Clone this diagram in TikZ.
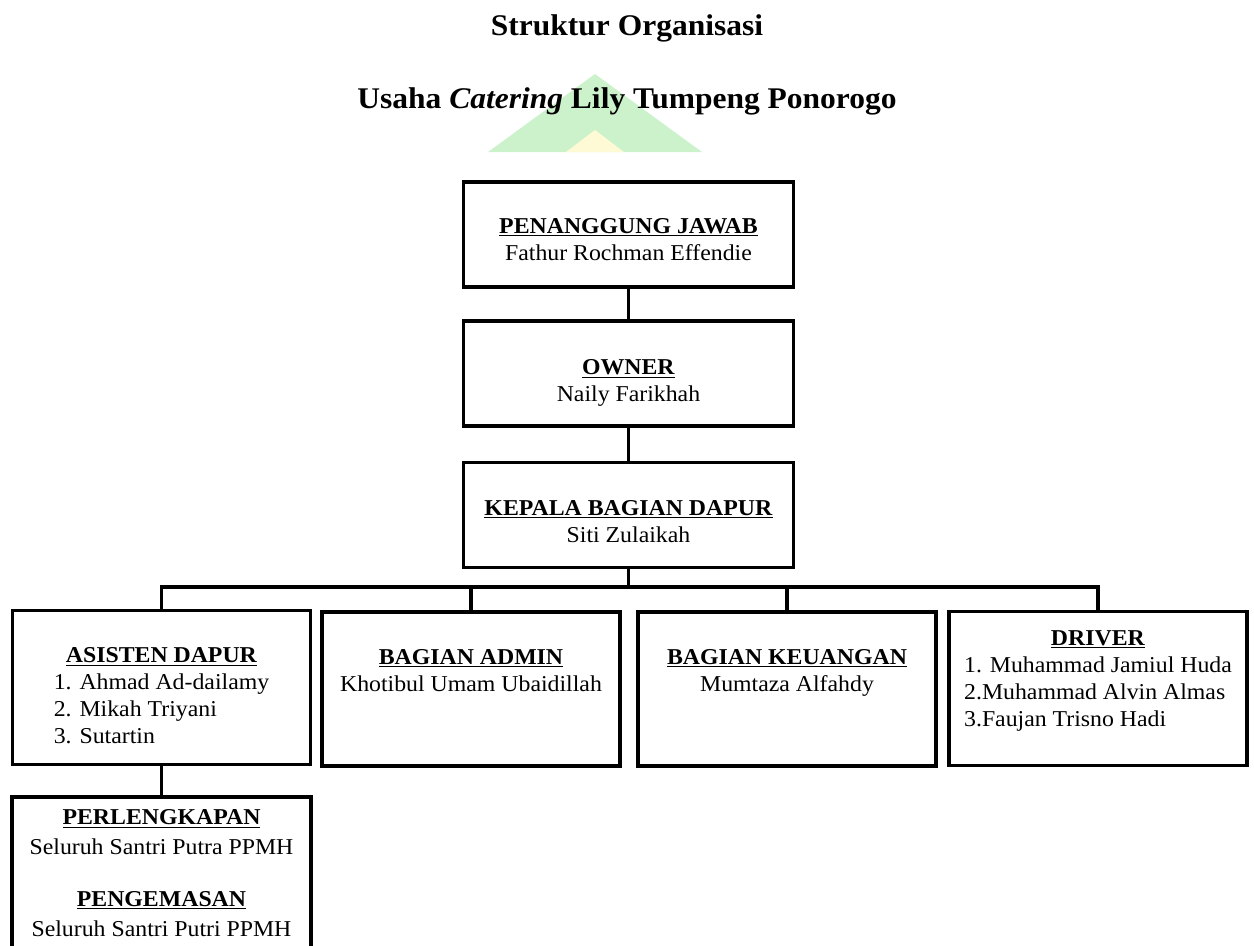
\documentclass[tikz,border=0pt]{standalone}
\usepackage{fontspec}
\setmainfont[FakeStretch=1.05]{Liberation Serif}
\definecolor{wmhijau}{RGB}{204,242,204}
\definecolor{wmkuning}{RGB}{255,250,214}
\newcommand{\isi}[4]{\parbox[c][#2][t]{#1}{\centering\vspace*{#3}#4}}
\newcommand{\kepala}[1]{\underline{\textbf{#1}}}
\tikzset{
  kotak/.style={draw, line width=2.4pt, inner sep=0pt, font=\fontsize{17}{20.25}\selectfont},
  garis/.style={line width=2.4pt},
  judul/.style={anchor=base, font=\fontsize{22.5}{26}\selectfont\bfseries}
}

\begin{document}
\begin{tikzpicture}[x=0.75pt,y=-0.75pt]
\useasboundingbox (0,0) rectangle (1254,946);
\fill[wmhijau] (488,152) -- (595,74) -- (702,152) -- cycle;
\fill[wmkuning] (566,152) -- (595,130) -- (624,152) -- cycle;

\node[judul] (judul1) at (627,35) {Struktur Organisasi};
\node[judul] (judul2) at (627,108) {Usaha \textit{Catering} Lily Tumpeng Ponorogo};

\node[kotak] (pj) at (628.5,234.5) {\isi{247.5pt}{78.75pt}{27pt}{\kepala{PENANGGUNG JAWAB}\\Fathur Rochman Effendie}};
\node[kotak] (owner) at (628.5,373.5) {\isi{247.5pt}{78.75pt}{29pt}{\kepala{OWNER}\\Naily Farikhah}};
\node[kotak] (kepala) at (628.5,515) {\isi{247.5pt}{78.75pt}{28.5pt}{\kepala{KEPALA BAGIAN DAPUR}\\Siti Zulaikah}};

\node[kotak] (asisten) at (161.5,687.5) {\isi{223.5pt}{115.5pt}{28pt}{\kepala{ASISTEN DAPUR}\\
  \begin{tabular}[t]{@{}l@{}}1. Ahmad Ad-dailamy\\2. Mikah Triyani\\3. Sutartin\end{tabular}}};
\node[kotak] (admin) at (471,689) {\isi{223.5pt}{115.5pt}{28pt}{\kepala{BAGIAN ADMIN}\\Khotibul Umam Ubaidillah}};
\node[kotak] (keuangan) at (787,689) {\isi{223.5pt}{115.5pt}{28pt}{\kepala{BAGIAN KEUANGAN}\\Mumtaza Alfahdy}};
\node[kotak] (driver) at (1098,688.5) {\isi{223.5pt}{115.5pt}{14pt}{\kepala{DRIVER}\\
  \begin{tabular}[t]{@{}l@{}}1. Muhammad Jamiul Huda\\2.Muhammad Alvin Almas\\3.Faujan Trisno Hadi\end{tabular}}};

\node[kotak, font=\fontsize{17}{22.5}\selectfont] (perlengkapan) at (161.5,882) {\isi{224.25pt}{127.5pt}{9.5pt}{\kepala{PERLENGKAPAN}\\Seluruh Santri Putra PPMH\\[16pt]
  \kepala{PENGEMASAN}\\Seluruh Santri Putri PPMH}};

\coordinate (bus) at (628.5,588);
\draw[garis] (pj.south) -- (owner.north);
\draw[garis] (owner.south) -- (kepala.north);
\draw[garis] (kepala.south) -- (bus);
\draw[garis] (asisten.north) -- ++(0,-22) -| (driver.north);
\draw[garis] (admin.north) -- (admin.north |- bus);
\draw[garis] (keuangan.north) -- (keuangan.north |- bus);
\draw[garis] (asisten.south) -- (perlengkapan.north);
\end{tikzpicture}
\end{document}
